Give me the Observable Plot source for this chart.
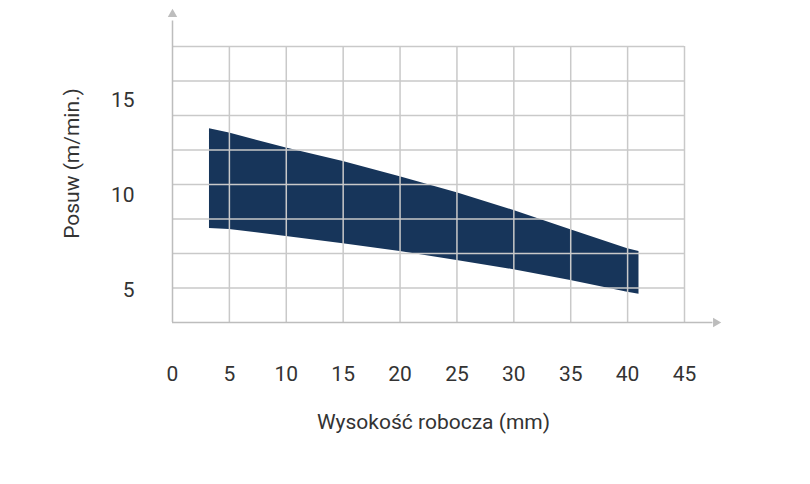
<!DOCTYPE html>
<html>
<head>
<meta charset="utf-8">
<script src="https://cdn.jsdelivr.net/npm/d3@7"></script>
<script src="https://cdn.jsdelivr.net/npm/@observablehq/plot@0.6"></script>
<style>
  html, body { margin: 0; padding: 0; background: #ffffff; }
  #chart svg { display: block; }
</style>
</head>
<body>
<div id="chart"></div>
<script>
// Data
const height_mm = [3.25, 5, 10, 15, 20, 25, 30, 35, 40, 41];
const feedMax   = [13.52, 13.29, 12.50, 11.79, 10.99, 10.15, 9.21, 8.20, 7.19, 7.05];
const feedMin   = [8.26, 8.21, 7.84, 7.46, 7.05, 6.58, 6.09, 5.52, 4.91, 4.80];

const xTicks = [0, 5, 10, 15, 20, 25, 30, 35, 40, 45];
const yTicks = [5, 10, 15];
const yBase = 3.31;   // value at the x axis
const yStep = 1.818;  // value between horizontal grid lines
const yGrid = d3.range(9).map(k => yBase + k * yStep);

const xLabel = "Wysokość robocza (mm)";
const yLabel = "Posuw (m/min.)";

const band = height_mm.map((h, i) => ({h, lo: feedMin[i], hi: feedMax[i]}));
const yTop = yGrid[yGrid.length - 1];
const gridColor = "#c9c9c9";
const axisColor = "#bdbdbd";
const textColor = "#333333";

const chart = Plot.plot({
  width: 810,
  height: 484,
  marginLeft: 172,
  marginRight: 126,
  marginTop: 46,
  marginBottom: 162,
  style: {fontFamily: "Roboto, sans-serif", background: "transparent"},
  x: {domain: [0, 45]},
  y: {domain: [yBase, yTop]},
  marks: [
    Plot.areaY(band, {x: "h", y1: "lo", y2: "hi", fill: "#17355a", curve: "linear"}),
    Plot.ruleX(xTicks.slice(1), {y1: yBase, y2: yTop, stroke: gridColor, strokeWidth: 1.5}),
    Plot.ruleY(yGrid.slice(1), {x1: 0, x2: 45, stroke: gridColor, strokeWidth: 1.5}),
    // axis lines with arrows
    Plot.ruleY([yBase], {x1: 0, x2: 47.5, stroke: axisColor, strokeWidth: 1.5}),
    Plot.ruleX([0], {y1: yBase, y2: 19.2, stroke: axisColor, strokeWidth: 1.5}),
    Plot.dot([{x: 0, y: 19.55}], {x: "x", y: "y", symbol: "triangle2", r: 4.5, fill: axisColor, stroke: null}),
    Plot.dot([{x: 47.75, y: yBase}], {x: "x", y: "y", symbol: "triangle2", r: 4.5, rotate: 90, fill: axisColor, stroke: null}),
    Plot.axisX(xTicks, {tickSize: 0, tickPadding: 44, fontSize: 21, color: textColor, label: null}),
    Plot.axisY(yTicks, {tickSize: 0, tickPadding: 38, fontSize: 21, color: textColor, label: null}),
    Plot.text([xLabel], {frameAnchor: "bottom", dy: 100, dx: 5, text: d => d, fontSize: 21, fill: textColor, lineAnchor: "middle"}),
    Plot.text([yLabel], {frameAnchor: "left", dx: -100, dy: -21, rotate: -90, text: d => d, fontSize: 21, fill: textColor, lineAnchor: "middle", textAnchor: "middle"})
  ]
});
document.getElementById("chart").appendChild(chart);
</script>
</body>
</html>
